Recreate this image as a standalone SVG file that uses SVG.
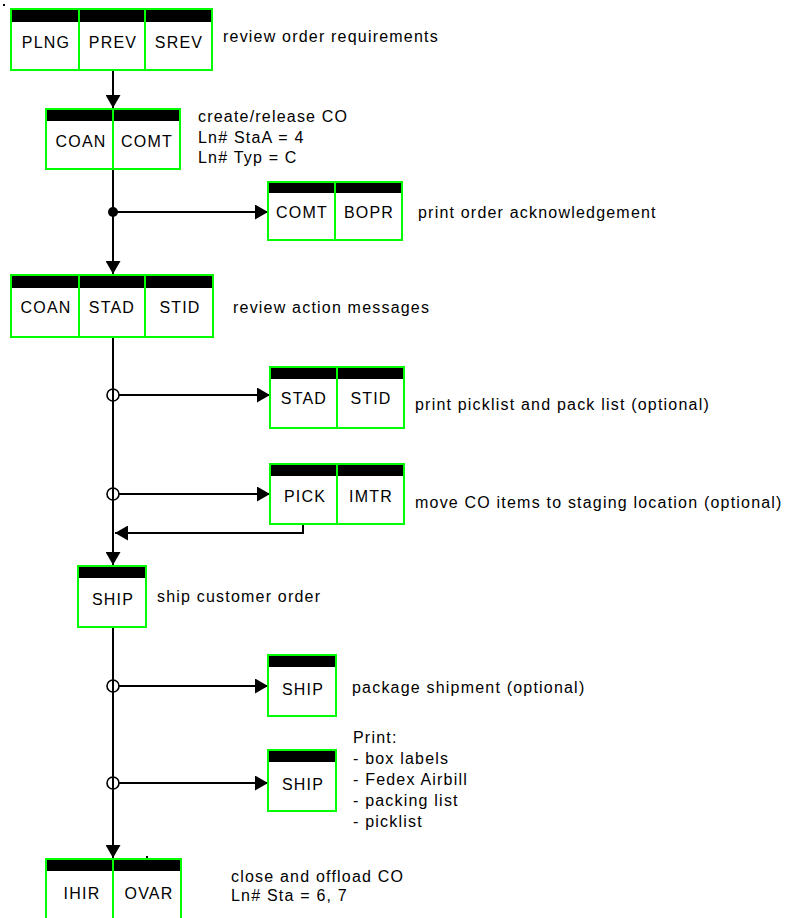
<svg xmlns="http://www.w3.org/2000/svg" width="799" height="918" viewBox="0 0 799 918">
<style>
.box{fill:#fff;stroke:#00ff00;stroke-width:2}
.hdr{fill:#000}
.div{stroke:#00ff00;stroke-width:2}
.lbl{font-family:"Liberation Sans",Arial,sans-serif;font-size:16px;letter-spacing:1.2px;text-anchor:middle;fill:#000}
.txt{font-family:"Liberation Sans",Arial,sans-serif;font-size:16px;letter-spacing:1.2px;fill:#000}
.ln{fill:none;stroke:#000;stroke-width:2}
.jc{fill:#fff;stroke:#000;stroke-width:1.6}
</style>
<defs>
<marker id="ah" markerUnits="userSpaceOnUse" markerWidth="14" markerHeight="15" refX="13" refY="7.5" orient="auto">
<path d="M0,0 L13,7.5 L0,15 z" fill="#000"/>
</marker>
</defs>
<rect x="3" y="4" width="2" height="2" fill="#000"/>
<rect x="146" y="856" width="2" height="2" fill="#000"/>
<g id="connectors">
<path class="ln" d="M113,70 V108" marker-end="url(#ah)"/>
<path class="ln" d="M113,169 V274" marker-end="url(#ah)"/>
<path class="ln" d="M113,212 H268" marker-end="url(#ah)"/>
<circle cx="113" cy="212" r="5" fill="#000"/>
<path class="ln" d="M113,337 V565" marker-end="url(#ah)"/>
<path class="ln" d="M119,395 H270" marker-end="url(#ah)"/>
<path class="ln" d="M119,494 H270" marker-end="url(#ah)"/>
<path class="ln" d="M303,524 V533 H115" marker-end="url(#ah)"/>
<path class="ln" d="M113,627 V858" marker-end="url(#ah)"/>
<path class="ln" d="M119,686 H268" marker-end="url(#ah)"/>
<path class="ln" d="M119,783 H268" marker-end="url(#ah)"/>
<g fill="none" stroke="#000" stroke-width="1.6">
<circle cx="113" cy="395" r="6"/>
<circle cx="113" cy="494" r="6"/>
<circle cx="113" cy="686" r="6"/>
<circle cx="113" cy="783" r="6"/>
</g>
</g>
<g id="n1">
<rect class="box" x="11" y="9" width="201" height="61"/>
<rect class="hdr" x="11" y="9" width="201" height="13"/>
<rect x="11" y="9" width="201" height="61" fill="none" stroke="#00ff00" stroke-width="2"/>
<line class="div" x1="79" y1="9" x2="79" y2="70"/>
<line class="div" x1="145" y1="9" x2="145" y2="70"/>
<text class="lbl" x="46" y="48">PLNG</text>
<text class="lbl" x="113" y="48">PREV</text>
<text class="lbl" x="179" y="48">SREV</text>
<text class="txt" x="223" y="42">review order requirements</text>
</g>
<g id="n2">
<rect class="box" x="46" y="109" width="134" height="60"/>
<rect class="hdr" x="46" y="109" width="134" height="12"/>
<rect x="46" y="109" width="134" height="60" fill="none" stroke="#00ff00" stroke-width="2"/>
<line class="div" x1="113" y1="109" x2="113" y2="169"/>
<text class="lbl" x="81" y="147">COAN</text>
<text class="lbl" x="147" y="147">COMT</text>
<text class="txt" x="198" y="122">create/release CO</text>
<text class="txt" x="198" y="143">Ln# StaA = 4</text>
<text class="txt" x="198" y="163">Ln# Typ = C</text>
</g>
<g id="n3">
<rect class="box" x="268" y="182" width="134" height="58"/>
<rect class="hdr" x="268" y="182" width="134" height="11"/>
<rect x="268" y="182" width="134" height="58" fill="none" stroke="#00ff00" stroke-width="2"/>
<line class="div" x1="335" y1="182" x2="335" y2="240"/>
<text class="lbl" x="302" y="218">COMT</text>
<text class="lbl" x="369" y="218">BOPR</text>
<text class="txt" x="418" y="218">print order acknowledgement</text>
</g>
<g id="n4">
<rect class="box" x="11" y="275" width="202" height="62"/>
<rect class="hdr" x="11" y="275" width="202" height="13"/>
<rect x="11" y="275" width="202" height="62" fill="none" stroke="#00ff00" stroke-width="2"/>
<line class="div" x1="79" y1="275" x2="79" y2="337"/>
<line class="div" x1="145" y1="275" x2="145" y2="337"/>
<text class="lbl" x="46" y="313">COAN</text>
<text class="lbl" x="112" y="313">STAD</text>
<text class="lbl" x="180" y="313">STID</text>
<text class="txt" x="233" y="313">review action messages</text>
</g>
<g id="n5">
<rect class="box" x="270" y="367" width="134" height="61"/>
<rect class="hdr" x="270" y="367" width="134" height="12"/>
<rect x="270" y="367" width="134" height="61" fill="none" stroke="#00ff00" stroke-width="2"/>
<line class="div" x1="337" y1="367" x2="337" y2="428"/>
<text class="lbl" x="304" y="404">STAD</text>
<text class="lbl" x="371" y="404">STID</text>
<text class="txt" x="415" y="410">print picklist and pack list (optional)</text>
</g>
<g id="n6">
<rect class="box" x="270" y="464" width="134" height="60"/>
<rect class="hdr" x="270" y="464" width="134" height="12"/>
<rect x="270" y="464" width="134" height="60" fill="none" stroke="#00ff00" stroke-width="2"/>
<line class="div" x1="337" y1="464" x2="337" y2="524"/>
<text class="lbl" x="305" y="502">PICK</text>
<text class="lbl" x="371" y="502">IMTR</text>
<text class="txt" x="415" y="508">move CO items to staging location (optional)</text>
</g>
<g id="n7">
<rect class="box" x="78" y="566" width="68" height="61"/>
<rect class="hdr" x="78" y="566" width="68" height="12"/>
<rect x="78" y="566" width="68" height="61" fill="none" stroke="#00ff00" stroke-width="2"/>
<text class="lbl" x="113" y="605">SHIP</text>
<text class="txt" x="157" y="602">ship customer order</text>
</g>
<g id="n8">
<rect class="box" x="268" y="655" width="68" height="61"/>
<rect class="hdr" x="268" y="655" width="68" height="12"/>
<rect x="268" y="655" width="68" height="61" fill="none" stroke="#00ff00" stroke-width="2"/>
<text class="lbl" x="303" y="695">SHIP</text>
<text class="txt" x="352" y="693">package shipment (optional)</text>
</g>
<g id="n9">
<rect class="box" x="268" y="750" width="68" height="61"/>
<rect class="hdr" x="268" y="750" width="68" height="12"/>
<rect x="268" y="750" width="68" height="61" fill="none" stroke="#00ff00" stroke-width="2"/>
<text class="lbl" x="303" y="790">SHIP</text>
<text class="txt" x="353" y="743">Print:</text>
<text class="txt" x="353" y="764">- box labels</text>
<text class="txt" x="353" y="785">- Fedex Airbill</text>
<text class="txt" x="353" y="806">- packing list</text>
<text class="txt" x="353" y="827">- picklist</text>
</g>
<g id="n10">
<rect class="box" x="46" y="859" width="135" height="62"/>
<rect class="hdr" x="46" y="859" width="135" height="12"/>
<rect x="46" y="859" width="135" height="62" fill="none" stroke="#00ff00" stroke-width="2"/>
<line class="div" x1="113" y1="859" x2="113" y2="921"/>
<text class="lbl" x="82" y="899">IHIR</text>
<text class="lbl" x="149" y="899">OVAR</text>
<text class="txt" x="231" y="882">close and offload CO</text>
<text class="txt" x="231" y="901">Ln# Sta = 6, 7</text>
</g>
</svg>
